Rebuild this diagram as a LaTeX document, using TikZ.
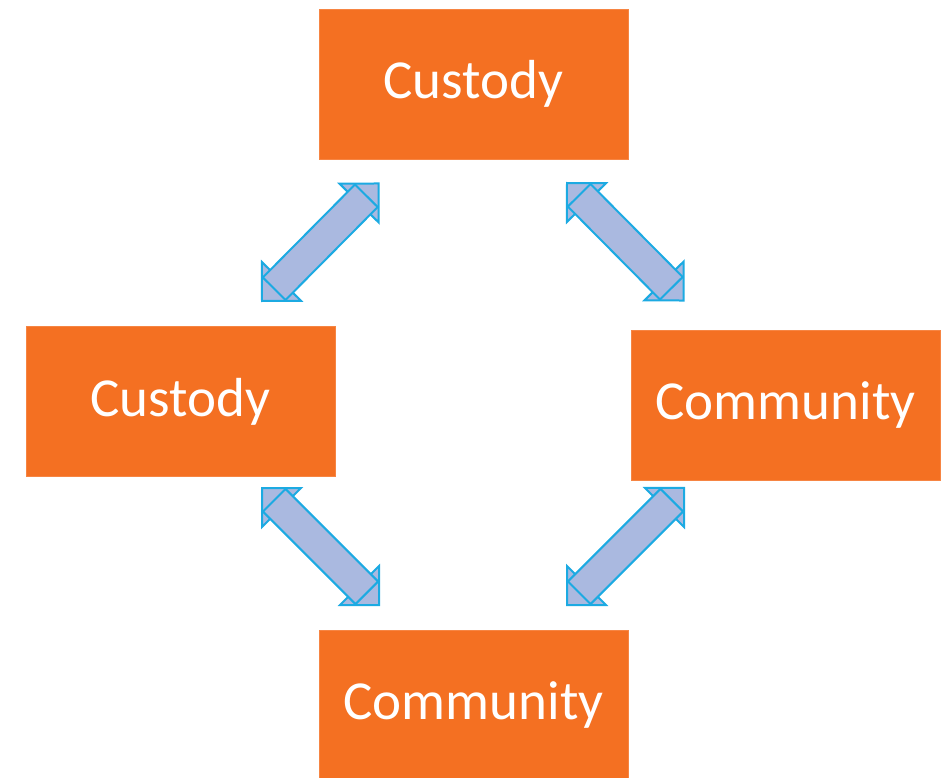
\documentclass[tikz,border=0pt]{standalone}
\usepackage{fontspec}
\setmainfont{Carlito}

\definecolor{boxorange}{RGB}{244,112,34}
\definecolor{arrowfill}{RGB}{170,185,224}
\definecolor{arrowline}{RGB}{28,170,226}

\tikzset{
  stage/.style={fill=boxorange, draw=boxorange!85!white, line width=0.6pt,
    text=white, minimum width=309pt, minimum height=150pt, inner sep=0pt,
    font=\fontsize{55}{66}\selectfont},
  flow/.style={fill=arrowfill, draw=arrowline, line width=2pt},
}

% two-headed block arrow from tip #1 to tip #2
\newcommand\twoway[2]{%
  \pgfmathanglebetweenpoints{\pgfpointanchor{#1}{center}}{\pgfpointanchor{#2}{center}}%
  \let\flowangle\pgfmathresult
  \begin{scope}[shift={(#1)}, rotate=\flowangle]
    \filldraw[flow] (0,0) -- (27.6,27.6) -- (27.6,-27.6) -- cycle;
    \filldraw[flow] (165.5,0) -- (137.9,27.6) -- (137.9,-27.6) -- cycle;
    \filldraw[flow] (17.3,-16) rectangle (148.2,16);
  \end{scope}}

\begin{document}
\begin{tikzpicture}[x=1pt, y=-1pt]
\clip (0,0) rectangle (948,778);

\node[stage] (custodyA) at (473.5,84) {Custody};
\node[stage] (custodyB) at (180.5,401.5) {Custody};
\node[stage] (communityA) at (785.5,405) {Community};
\node[stage] (communityB) at (473.5,705.5) {Community};

% arrow tips
\coordinate (tl1) at (262,301);
\coordinate (tl2) at (379,183);
\coordinate (tr1) at (567,183);
\coordinate (tr2) at (684,301);
\coordinate (bl1) at (262,488);
\coordinate (bl2) at (379,605);
\coordinate (br1) at (567,605);
\coordinate (br2) at (684,488);

\twoway{tl1}{tl2}
\twoway{tr1}{tr2}
\twoway{bl1}{bl2}
\twoway{br1}{br2}
\end{tikzpicture}
\end{document}
